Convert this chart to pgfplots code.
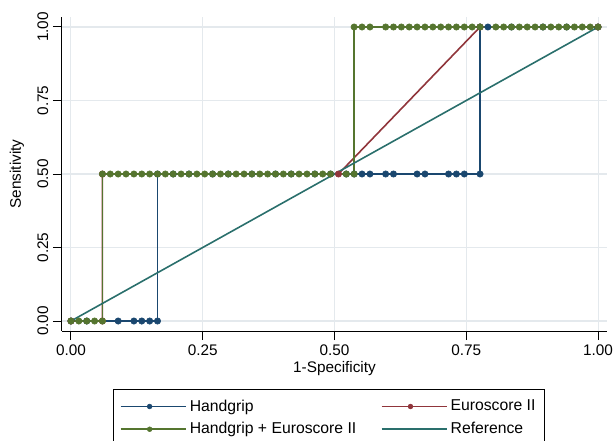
\documentclass[border=0pt]{standalone}
\usepackage{fontspec}
\setmainfont{Liberation Sans}
\usepackage{pgfplots}
\pgfplotsset{compat=1.18}
\definecolor{hg}{HTML}{1A476F}
\definecolor{eu}{HTML}{90353B}
\definecolor{cb}{HTML}{55752F}
\definecolor{rf}{HTML}{2A6F6C}
\definecolor{gridc}{HTML}{E4E9ED}
\begin{document}
\begin{tikzpicture}
\begin{axis}[
  at={(0pt,0pt)}, anchor=south west,
  scale only axis, width=408.75pt, height=235.5pt,
  xmin=-0.017, xmax=1.017, ymin=-0.034, ymax=1.034,
  axis lines*=left, axis line style={-, black, line width=0.75pt},
  xtick={0,0.25,0.5,0.75,1}, ytick={0,0.25,0.5,0.75,1},
  tick align=outside, major tick length=6.75pt,
  tick style={black, line width=0.75pt},
  grid=major, major grid style={gridc, line width=0.8pt},
  ticklabel style={font=\fontsize{11.5}{13}\selectfont},
  /pgf/number format/assume math mode=true,
  xticklabel={\pgfmathprintnumber[fixed,fixed zerofill,precision=2]{\tick}},
  yticklabel={\pgfmathprintnumber[fixed,fixed zerofill,precision=2]{\tick}},
  yticklabel style={rotate=90, anchor=south},
  xlabel={1-Specificity}, ylabel={Sensitivity},
  label style={font=\fontsize{11.5}{13}\selectfont},
  xlabel style={at={(axis description cs:0.5,-0.12)}, anchor=center},
  ylabel style={at={(axis description cs:-0.0826,0.5)}, anchor=center},
  legend columns=2,
  legend cell align=left,
  legend style={at={(0.0936,-0.1835)}, anchor=north west,
    draw=black, line width=0.75pt, inner xsep=5pt, inner ysep=4.5pt,
    font=\fontsize{11.8}{14}\selectfont,
    /tikz/every even column/.append style={column sep=16.5pt},
    nodes={inner ysep=3.5pt}},
  legend image code/.code={%
    \draw[line width=1.2pt,mark repeat=2,mark phase=2,mark size=1.8pt] plot coordinates {(0pt,0pt) (21.5pt,0pt) (43pt,0pt)};
    \path (0pt,0pt) -- (49pt,0pt);},
  every axis plot/.append style={line width=1.2pt, mark=*, mark size=2.4pt},
]
\addplot[color=hg, mark options={fill=hg, draw=hg, line width=0.4pt}] coordinates {
(0,0) (0.0299,0) (0.0896,0) (0.1194,0) (0.1343,0) (0.1493,0) (0.1642,0)
(0.1642,0.5) (0.1940,0.5) (0.2239,0.5) (0.2687,0.5) (0.2985,0.5) (0.3433,0.5)
(0.3881,0.5) (0.4179,0.5) (0.4627,0.5) (0.4925,0.5) (0.5224,0.5) (0.5373,0.5)
(0.5522,0.5) (0.5672,0.5) (0.5970,0.5) (0.6119,0.5) (0.6567,0.5) (0.6716,0.5)
(0.7164,0.5) (0.7313,0.5) (0.7463,0.5) (0.7761,0.5)
(0.7761,1) (0.7910,1) (0.8358,1) (0.8955,1) (0.9403,1) (1,1)
};
\addlegendentry{Handgrip}
\addplot[color=eu, mark options={fill=eu, draw=eu, line width=0.4pt}] coordinates {
(0,0) (0.0597,0) (0.0597,0.5) (0.5075,0.5) (0.7761,1) (1,1)
};
\addlegendentry{Euroscore II}
\addplot[color=cb, mark options={fill=cb, draw=cb, line width=0.4pt}] coordinates {
(0,0) (0.0149,0) (0.0299,0) (0.0448,0) (0.0597,0)
(0.0597,0.5) (0.0746,0.5) (0.0896,0.5) (0.1045,0.5) (0.1194,0.5) (0.1343,0.5)
(0.1493,0.5) (0.1642,0.5) (0.1791,0.5) (0.1940,0.5) (0.2090,0.5) (0.2239,0.5)
(0.2388,0.5) (0.2537,0.5) (0.2687,0.5) (0.2836,0.5) (0.2985,0.5) (0.3134,0.5)
(0.3284,0.5) (0.3433,0.5) (0.3582,0.5) (0.3731,0.5) (0.3881,0.5) (0.4030,0.5)
(0.4179,0.5) (0.4328,0.5) (0.4478,0.5) (0.4627,0.5) (0.4776,0.5) (0.4925,0.5)
(0.5224,0.5) (0.5373,0.5)
(0.5373,1) (0.5522,1) (0.5672,1) (0.5970,1) (0.6119,1) (0.6269,1) (0.6418,1)
(0.6567,1) (0.6716,1) (0.6866,1) (0.7015,1) (0.7164,1) (0.7313,1) (0.7463,1)
(0.7612,1) (0.7761,1) (0.8060,1) (0.8209,1) (0.8358,1) (0.8507,1) (0.8657,1)
(0.8806,1) (0.8955,1) (0.9104,1) (0.9254,1) (0.9403,1) (0.9552,1) (0.9701,1)
(0.9851,1) (1,1)
};
\addlegendentry{Handgrip + Euroscore II}
\addplot[color=rf, mark=none] coordinates {(0,0) (1,1)};
\addlegendentry{Reference}
\end{axis}
\pgfresetboundingbox
\path[use as bounding box] (-46.5pt,-81.75pt) rectangle (415.5pt,248.25pt);
\end{tikzpicture}
\end{document}
